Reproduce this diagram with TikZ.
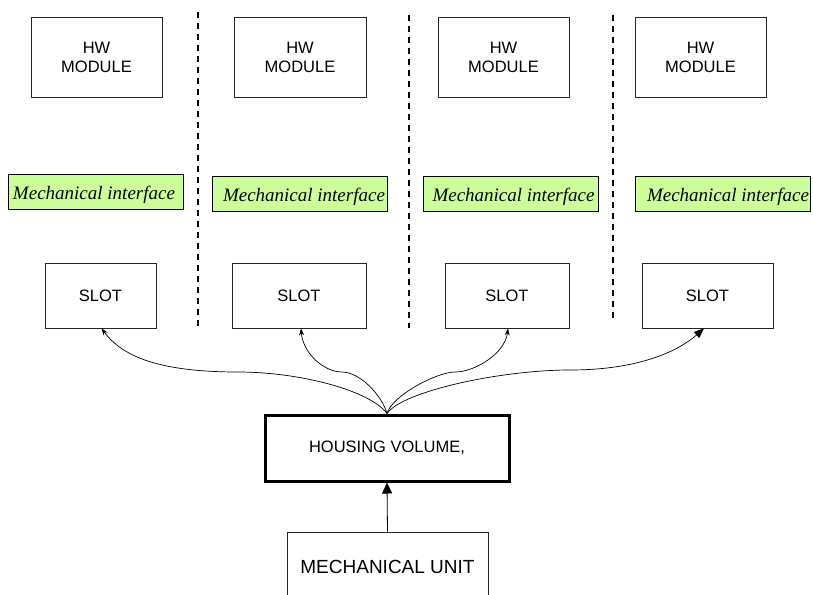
\documentclass[tikz,border=0pt]{standalone}
\usepackage{fontspec}
\setmainfont{Liberation Sans}
\newfontfamily\ifacefont{Liberation Serif}
\usepackage{tikz}
\usetikzlibrary{arrows.meta}
\definecolor{ifacegreen}{RGB}{204,255,153}
\tikzset{box/.style={draw=black!85, line width=.8pt, inner sep=0pt, align=center, font=\fontsize{16.5}{19}\selectfont},
    iface/.style={draw=black, fill=ifacegreen, line width=.8pt, inner sep=0pt, minimum width=175pt, minimum height=35pt, font=\ifacefont\itshape\fontsize{19}{22}\selectfont},
    divider/.style={dash pattern=on 6pt off 5pt, line width=1.4pt},
    plug/.style={-{Stealth[length=7pt,width=5pt]}, line width=.7pt}}
\newcommand{\ifacelabel}[1]{\hbox to 175pt{\hskip #1pt\raisebox{-3.5pt}[13.5pt][4.5pt]{Mechanical interface}\hss}}

\begin{document}
\begin{tikzpicture}[x=1pt,y=-1pt]
                 \useasboundingbox (0,0) rectangle (813,594);

                 \node[box, minimum width=131pt, minimum height=80pt] (hw1) at (96.5,57) {HW\\MODULE};
                 \node[box, minimum width=132pt, minimum height=80pt] (hw2) at (300,57) {HW\\MODULE};
                 \node[box, minimum width=131pt, minimum height=80pt] (hw3) at (503.5,57) {HW\\MODULE};
                 \node[box, minimum width=131pt, minimum height=80pt] (hw4) at (700.5,57) {HW\\MODULE};

                 \node[iface] (if1) at (95.5,191.5) {\ifacelabel{5}};
                 \node[iface] (if2) at (299.5,193.5) {\ifacelabel{11}};
                 \node[iface] (if3) at (511,193.5) {\ifacelabel{9}};
                 \node[iface] (if4) at (722.5,193.5) {\ifacelabel{12}};

                 \node[box, minimum width=111pt, minimum height=65pt] (s1) at (100.5,295.5) {SLOT};
                 \node[box, minimum width=134pt, minimum height=65pt] (s2) at (299,295.5) {SLOT};
                 \node[box, minimum width=124pt, minimum height=65pt] (s3) at (507,295.5) {SLOT};
                 \node[box, minimum width=131pt, minimum height=65pt] (s4) at (707.5,295.5) {SLOT};

                 \foreach \x/\top/\bot in {198/12/328, 409/15/328, 613/15/318}
                     \draw[divider] (\x,\top)--(\x,\bot);

                 \node[box, draw=black, line width=3pt, minimum width=244pt, minimum height=66pt] (hv) at (387,448) {HOUSING VOLUME,};
                 \node[box, minimum width=201pt, minimum height=70pt, font=\fontsize{19}{22}\selectfont] (mu) at (387.5,567) {MECHANICAL UNIT};

                 \draw[plug] (hv.north) .. controls +(-17,-23) and +(62,0) .. (238,372)
                     .. controls +(-88,0) and +(18,24) .. ([xshift=1pt]s1.south);
                 \draw[plug] (hv.north) .. controls +(-5,-18) and +(18,0) .. (342,372)
                     .. controls +(-18,0) and +(2,25) .. ([xshift=2pt]s2.south);
                 \draw[plug] (hv.north) .. controls +(5,-18) and +(-18,0) .. (455,372)
                     .. controls +(20,0) and +(-3,25) .. ([xshift=1pt]s3.south);
                 \draw[-{Triangle[length=10pt,width=8pt]}, line width=.7pt] (hv.north) .. controls +(15,-22) and +(-70,0) .. (570,370)
                     .. controls +(70,0) and +(-25,22) .. ([xshift=-3.5pt]s4.south);

                 \draw[-{Triangle[length=11pt,width=10pt]}, line width=.8pt] (mu.north)--(hv.south);
             \end{tikzpicture}
\end{document}
